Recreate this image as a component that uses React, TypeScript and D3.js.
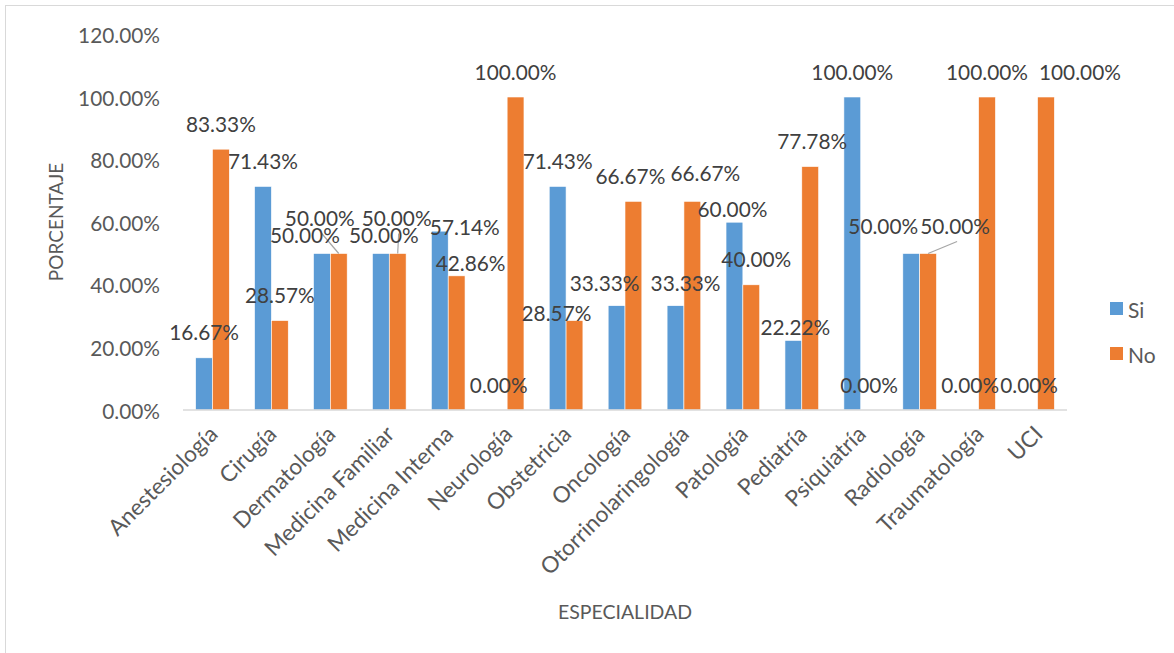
import React from "react";
import * as d3 from "d3";

const categories = [
  "Anestesiología", "Cirugía", "Dermatología", "Medicina Familiar", "Medicina Interna",
  "Neurología", "Obstetricia", "Oncología", "Otorrinolaringología", "Patología",
  "Pediatría", "Psiquiatría", "Radiología", "Traumatología", "UCI",
];
const seriesNames = ["Si", "No"];
const siValues = [0.1667, 0.7143, 0.5, 0.5, 0.5714, 0, 0.7143, 0.3333, 0.3333, 0.6, 0.2222, 1, 0.5, 0, 0];
const noValues = [0.8333, 0.2857, 0.5, 0.5, 0.4286, 1, 0.2857, 0.6667, 0.6667, 0.4, 0.7778, 0, 0.5, 1, 1];
const yTicks = [0, 0.2, 0.4, 0.6, 0.8, 1.0, 1.2];

// label nudges (layout only), [dx, dy] relative to default position above bar
const siNudge: [number, number][] = [
  [0, 0], [0, 0], [-17, 7], [3, 7], [25, 21], [0, 0], [0, 0], [-12, 3], [10, 3], [-2, 12],
  [2, 12], [0, 0], [-28, -2], [0, 0], [0, 0],
];
const noNudge: [number, number][] = [
  [0, 0], [0, 0], [-19, -10], [-1, -10], [14, 13], [0, 0], [-18, 18], [-3, 0], [13, -3], [5, 0],
  [2, 0], [0, 0], [27, -2], [0, 0], [34, 0],
];
const noLeader = [false, false, true, true, false, false, false, false, false, false, false, false, true, false, false];

const colors: Record<string, string> = { Si: "#5B9BD5", No: "#ED7D31" };
const FONT = "Lato, 'Open Sans', sans-serif";
const TEXT = "#595959";

export default function App() {
  const W = 1174, H = 653;
  const x0 = d3.scaleBand<string>().domain(categories).range([183, 1067]);
  const bw = x0.bandwidth();
  const barW = bw / 3.5;
  const x1 = d3.scaleBand<string>().domain(seriesNames).range([0, 2 * barW]);
  const y = d3.scaleLinear().domain([0, 1.2]).range([410, 34.4]);
  const fmt = d3.format(".2%");

  const barX = (c: string, s: string) => (x0(c) as number) + (bw - 2 * barW) / 2 + (x1(s) as number);

  const valuesFor: Record<string, number[]> = { Si: siValues, No: noValues };
  const nudges: Record<string, [number, number][]> = { Si: siNudge, No: noNudge };

  return (
    <svg width={W} height={H} style={{ position: "absolute", left: 0, top: 0, background: "#fff" }}
      fontFamily={FONT}>
      <rect x={5.5} y={5.5} width={1200} height={700} fill="#fff" stroke="#d9d9d9" strokeWidth={1} />

      {/* y tick labels */}
      {yTicks.map((t) => (
        <text key={t} x={160} y={y(t)} textAnchor="end" dominantBaseline="central" fontSize={20.8} fill={TEXT}>
          {fmt(t)}
        </text>
      ))}

      {/* bars */}
      {seriesNames.map((s) =>
        categories.map((c, i) => {
          const v = valuesFor[s][i];
          return (
            <rect key={s + c} x={barX(c, s)} y={y(v)} width={barW} height={y(0) - y(v)}
              fill={colors[s]} stroke="#fff" strokeWidth={0.6} />
          );
        })
      )}

      {/* axis line */}
      <line x1={183} x2={1067} y1={y(0)} y2={y(0)} stroke="#d9d9d9" strokeWidth={1.5} />

      {/* leader lines */}
      {categories.map((c, i) => {
        if (!noLeader[i]) return null;
        const v = noValues[i];
        const bx = barX(c, "No") + barW / 2;
        const lx = bx + noNudge[i][0];
        const ly = y(v) - 26 + noNudge[i][1];
        return (
          <line key={"ld" + c} x1={lx + 2} y1={ly + 16} x2={bx} y2={y(v)} stroke="#a6a6a6" strokeWidth={1.2} />
        );
      })}

      {/* data labels */}
      {seriesNames.map((s) =>
        categories.map((c, i) => {
          const v = valuesFor[s][i];
          const [dx, dy] = nudges[s][i];
          const cx = barX(c, s) + barW / 2 + dx;
          const cy = y(v) - 26 + dy;
          return (
            <text key={"l" + s + c} x={cx} y={cy} textAnchor="middle" dominantBaseline="central"
              fontSize={20.8} fill="#404040">
              {fmt(v)}
            </text>
          );
        })
      )}

      {/* x tick labels */}
      {categories.map((c) => {
        const cx = (x0(c) as number) + bw / 2;
        return (
          <text key={"x" + c} transform={`translate(${cx + 1},${430}) rotate(-45)`} textAnchor="end"
            dy="0.35em" fontSize={22.5} fill={TEXT}>
            {c}
          </text>
        );
      })}

      {/* axis titles */}
      <text transform={`translate(55,222) rotate(-90)`} textAnchor="middle" dominantBaseline="central"
        fontSize={19} fill={TEXT}>PORCENTAJE</text>
      <text x={625} y={611} textAnchor="middle" dominantBaseline="central" fontSize={19.5} fill={TEXT}>
        ESPECIALIDAD
      </text>

      {/* legend */}
      {seriesNames.map((s, i) => (
        <g key={"lg" + s} transform={`translate(1110,${302 + i * 45})`}>
          <rect x={0} y={0} width={13} height={13} fill={colors[s]} />
          <text x={18} y={7} dominantBaseline="central" fontSize={21} fill={TEXT}>{s}</text>
        </g>
      ))}
    </svg>
  );
}
